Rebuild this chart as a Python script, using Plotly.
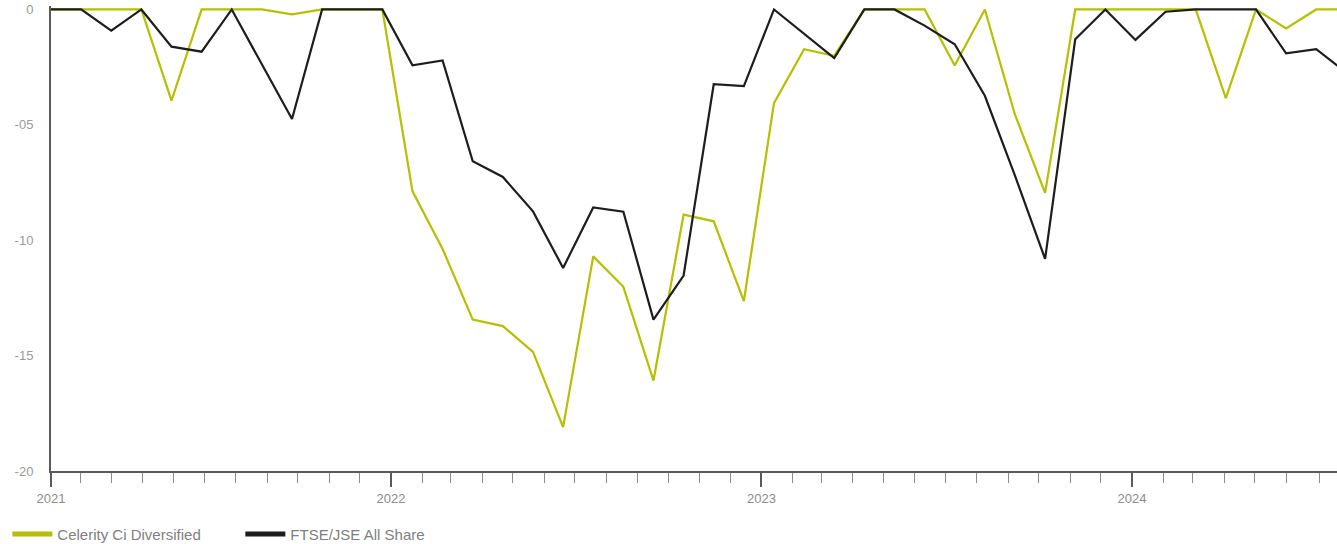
import plotly.graph_objects as go
import pandas as pd

celerity = [0, 0, 0, 0, -3.95, 0, 0, 0, -0.21, 0,
            0, 0, -7.88, -10.38, -13.44, -13.72, -14.84, -18.1, -10.7, -12.02,
            -16.08, -8.89, -9.18, -12.64, -4.06, -1.72, -2.01, 0, 0, 0,
            -2.43, 0, -4.56, -7.95, 0, 0, 0, 0, 0, -3.84,
            0, -0.82, 0, 0]
ftse = [0, 0, -0.92, 0, -1.61, -1.83, 0, -2.37, -4.75, 0,
        0, 0, -2.42, -2.21, -6.58, -7.26, -8.75, -11.2, -8.58, -8.76,
        -13.44, -11.53, -3.24, -3.32, 0, -1.05, -2.11, 0, 0, -0.7,
        -1.51, -3.74, -7.2, -10.81, -1.29, 0, -1.32, -0.1, 0, 0,
        0, -1.9, -1.72, -2.74]
period = list(range(len(celerity)))

series_names = ["Celerity Ci Diversified", "FTSE/JSE All Share"]
series_colors = ["#b4c000", "#1d1d1b"]

y_tickvals = [0, -5, -10, -15, -20]
y_ticktext = ["0", "-05", "-10", "-15", "-20"]

year_tickvals = ["2021-01-31", "2022-01-01", "2023-01-01", "2024-01-01"]
year_ticktext = ["2021", "2022", "2023", "2024"]
month_ticks = [d.strftime("%Y-%m-%d") for d in pd.date_range("2021-03-01", "2024-06-01", freq="MS")
               if d.month != 1] + ["2024-07-04"]

fig = go.Figure()
for vals, name, col in zip([celerity, ftse], series_names, series_colors):
    fig.add_trace(go.Scatter(x=period, y=vals, mode="lines", name=name,
                             line=dict(color=col, width=2.2), showlegend=False,
                             hoverinfo="skip"))
for name, col in zip(series_names, series_colors):
    fig.add_trace(go.Scatter(x=[None], y=[None], mode="lines", name=name,
                             line=dict(color=col, width=5), xaxis="x2"))

fig.update_layout(
    width=1337, height=544,
    margin=dict(l=51, r=0, t=6, b=73),
    paper_bgcolor="white", plot_bgcolor="white",
    font=dict(family="Liberation Sans, Arial, sans-serif", size=13, color="#8c8c8c"),
    xaxis=dict(range=[0, 42.69], visible=False, showgrid=False, zeroline=False),
    xaxis2=dict(
        type="date", overlaying="x", anchor="y", side="bottom",
        range=["2021-01-30 23:00", "2024-07-21 02:00"],
        tickmode="array", tickvals=year_tickvals, ticktext=year_ticktext,
        ticks="outside", ticklen=14, tickwidth=2, tickcolor="#5a5a5a",
        showline=True, linecolor="#5a5a5a", linewidth=2,
        showgrid=False, zeroline=False,
        tickfont=dict(size=13, color="#8c8c8c"),
        minor=dict(tickmode="array", tickvals=month_ticks, ticks="outside",
                   ticklen=10, tickwidth=1, tickcolor="#8a8a8a", showgrid=False),
    ),
    yaxis=dict(
        range=[-20, 0.15], tickmode="array", tickvals=y_tickvals, ticktext=y_ticktext,
        showline=True, linecolor="#5a5a5a", linewidth=2, ticks="",
        showgrid=False, zeroline=False, ticklabelstandoff=13,
        tickfont=dict(size=13, color="#9a9a9a"),
    ),
    legend=dict(orientation="h", xref="container", yref="container",
                x=0.0055, y=0.018, xanchor="left", yanchor="middle",
                font=dict(size=15, color="#808080"),
                itemwidth=40, entrywidth=178, bgcolor="rgba(0,0,0,0)"),
)

fig.write_html("out.html")
